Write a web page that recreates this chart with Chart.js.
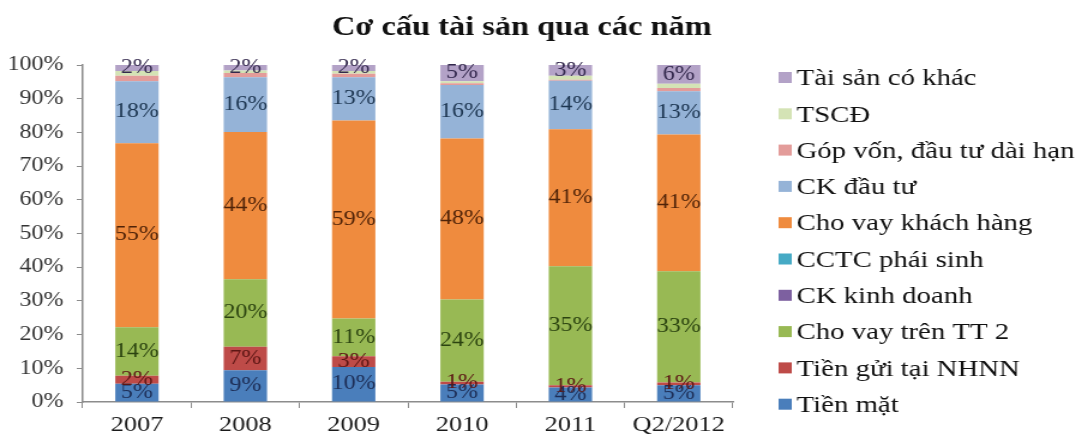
<!DOCTYPE html>
<html>
<head>
<meta charset="utf-8">
<script src="https://cdn.jsdelivr.net/npm/chart.js@4.4.0/dist/chart.umd.min.js"></script>
<style>
  html, body { margin: 0; padding: 0; background: #fff; overflow: hidden; }
  /* chart is laid out narrower and stretched sideways to the page width */
  #wrap { width: 907px; height: 442px; transform: scaleX(1.1996); transform-origin: 0 0; }
</style>
</head>
<body>
<div id="wrap"><canvas id="myChart"></canvas></div>
<script>
var chartTitle = "Cơ cấu tài sản qua các năm";
var categories = ["2007", "2008", "2009", "2010", "2011", "Q2/2012"];

// % of total assets per year
var tienMat      = [5.4, 9.4, 10.4, 5.2, 4.3, 5.0];
var tienGuiNHNN  = [2.4, 7.0, 3.2, 0.8, 0.7, 0.8];
var choVayTT2    = [14.4, 20.0, 11.2, 24.4, 35.3, 33.0];
var ckKinhDoanh  = [0, 0, 0, 0, 0, 0];
var cctcPhaiSinh = [0, 0, 0, 0, 0, 0];
var choVayKH     = [54.6, 43.7, 58.7, 47.8, 40.6, 40.6];
var ckDauTu      = [18.4, 16.3, 12.9, 15.9, 14.4, 12.8];
var gopVon       = [1.6, 1.2, 1.0, 0.5, 0.3, 1.0];
var tscd         = [1.4, 0.8, 0.8, 0.6, 1.2, 1.2];
var taiSanKhac   = [1.8, 1.6, 1.8, 4.8, 3.2, 5.6];

var yTicks = [0, 10, 20, 30, 40, 50, 60, 70, 80, 90, 100];

// title, centred a bit right of the plot
var topTitle = {
  id: "topTitle",
  afterDraw: function (chart) {
    var ctx = chart.ctx;
    ctx.save();
    ctx.font = 'bold 27px "Liberation Serif"';
    ctx.fillStyle = "#111";
    ctx.textAlign = "center";
    ctx.textBaseline = "alphabetic";
    ctx.fillText(chartTitle, 435, 35);
    ctx.restore();
  }
};

// value labels inside the bar segments
var segmentLabels = {
  id: "segmentLabels",
  afterDatasetsDraw: function (chart) {
    var ctx = chart.ctx;
    ctx.save();
    ctx.font = '20px "Liberation Serif"';
    ctx.textAlign = "center";
    ctx.textBaseline = "middle";
    chart.data.datasets.forEach(function (ds, i) {
      if (!ds.labelColor) return;
      var meta = chart.getDatasetMeta(i);
      meta.data.forEach(function (bar, j) {
        ctx.fillStyle = ds.labelColor;
        ctx.fillText(Math.round(ds.data[j]) + "%", bar.x, (bar.y + bar.base) / 2);
      });
    });
    ctx.restore();
  }
};

// legend on the right, top item = last dataset
var sideLegend = {
  id: "sideLegend",
  afterDraw: function (chart) {
    var ctx = chart.ctx;
    var boxX = 649;
    var y = 78;
    ctx.save();
    ctx.font = '24px "Liberation Serif"';
    ctx.textBaseline = "middle";
    ctx.textAlign = "left";
    var list = chart.data.datasets.slice().reverse();
    list.forEach(function (ds) {
      ctx.fillStyle = ds.backgroundColor;
      ctx.fillRect(boxX, y - 6, 11, 11);
      ctx.fillStyle = "#111";
      ctx.fillText(ds.label, boxX + 15, y + 1);
      y += 36.3;
    });
    ctx.restore();
  }
};

var ctx = document.getElementById("myChart").getContext("2d");
var chart = new Chart(ctx, {
  type: "bar",
  data: {
    labels: categories,
    datasets: [
      { label: "Tiền mặt", data: tienMat, backgroundColor: "#4a7ebb", labelColor: "#1d2d55" },
      { label: "Tiền gửi tại NHNN", data: tienGuiNHNN, backgroundColor: "#be4b48", labelColor: "#5c1614" },
      { label: "Cho vay trên TT 2", data: choVayTT2, backgroundColor: "#98b954", labelColor: "#2b4310" },
      { label: "CK kinh doanh", data: ckKinhDoanh, backgroundColor: "#7d60a0" },
      { label: "CCTC phái sinh", data: cctcPhaiSinh, backgroundColor: "#46aac5" },
      { label: "Cho vay khách hàng", data: choVayKH, backgroundColor: "#ef8b3e", labelColor: "#4f2308" },
      { label: "CK đầu tư", data: ckDauTu, backgroundColor: "#95b3d7", labelColor: "#1c3550" },
      { label: "Góp vốn, đầu tư dài hạn", data: gopVon, backgroundColor: "#e39c9a" },
      { label: "TSCĐ", data: tscd, backgroundColor: "#d4e3b5" },
      { label: "Tài sản có khác", data: taiSanKhac, backgroundColor: "#b3a2c7", labelColor: "#33284d" }
    ]
  },
  options: {
    responsive: true,
    maintainAspectRatio: false,
    animation: false,
    layout: { padding: { left: 0, right: 296, top: 65, bottom: 0 } },
    datasets: { bar: { barPercentage: 0.4, categoryPercentage: 1, borderWidth: 0 } },
    plugins: {
      legend: { display: false },
      tooltip: { enabled: false },
      title: { display: false }
    },
    scales: {
      x: {
        stacked: true,
        grid: { display: true, drawOnChartArea: false, drawTicks: true, tickLength: 6, color: "#8c8c8c", offset: true },
        border: { display: true, color: "#8c8c8c", width: 1.5 },
        ticks: { color: "#1a1a1a", padding: 4, font: { family: "Liberation Serif", size: 22 } },
        afterFit: function (scale) { scale.height = 40; }
      },
      y: {
        stacked: true,
        min: 0,
        max: 100,
        grid: { display: true, drawOnChartArea: false, drawTicks: true, tickLength: 5, color: "#8c8c8c" },
        border: { display: true, color: "#8c8c8c", width: 1.5 },
        afterBuildTicks: function (scale) {
          scale.ticks = yTicks.map(function (v) { return { value: v }; });
        },
        ticks: {
          color: "#333",
          padding: 11,
          font: { family: "Liberation Serif", size: 20 },
          callback: function (v) { return v + "%"; }
        },
        afterFit: function (scale) { scale.width = 69; }
      }
    }
  },
  plugins: [topTitle, segmentLabels, sideLegend]
});
</script>
</body>
</html>
